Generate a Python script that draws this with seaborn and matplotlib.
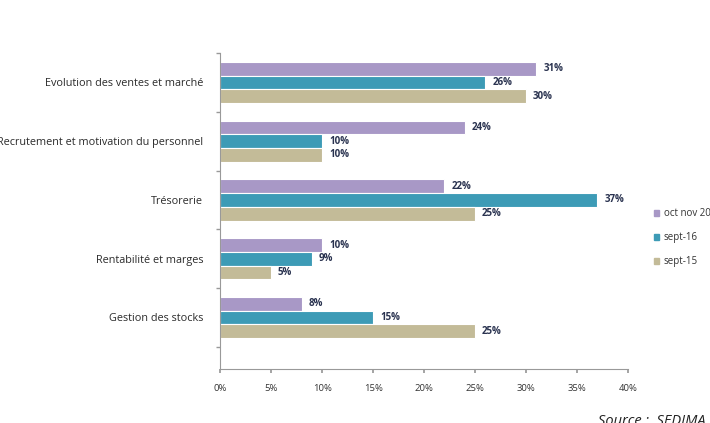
import matplotlib
matplotlib.use("Agg")
import matplotlib.pyplot as plt
import seaborn as sns
import pandas as pd
import numpy as np

categories = ["Evolution des ventes et marché",
              "Recrutement et motivation du personnel",
              "Trésorerie",
              "Rentabilité et marges",
              "Gestion des stocks"]
series_names = ["oct nov 2016", "sept-16", "sept-15"]
oct_nov = [31, 24, 22, 10, 8]
sept16 = [26, 10, 37, 9, 15]
sept15 = [30, 10, 25, 5, 25]
xtick_vals = [0, 5, 10, 15, 20, 25, 30, 35, 40]
xtick_labels = [f"{v}%" for v in xtick_vals]
colors = ["#a898c6", "#3d9bb6", "#c3bb98"]

rows = []
for name, vals in zip(series_names, [oct_nov, sept16, sept15]):
    for c, v in zip(categories, vals):
        rows.append({"cat": c, "period": name, "val": v})
df = pd.DataFrame(rows)

sns.set_theme(style="white")
plt.rcParams["font.family"] = ["Open Sans", "DejaVu Sans"]

fig = plt.figure(figsize=(7.10, 4.23), dpi=100)
ax = fig.add_axes([0.31, 0.1277, 0.5746, 0.747])

sns.barplot(data=df, y="cat", x="val", hue="period", order=categories,
            hue_order=series_names, palette=colors, orient="h", width=0.7,
            edgecolor="white", linewidth=0.8, saturation=1, ax=ax, legend=True)

for cont in ax.containers:
    ax.bar_label(cont, labels=[f"{int(v)}%" for v in cont.datavalues],
                 padding=5, fontsize=7, color="#2a3350", fontweight="bold")

ax.set_xlim(0, 40)
ax.set_ylim(4.876, -0.5)
ax.set_xticks(xtick_vals)
ax.set_xticklabels(xtick_labels, fontsize=6.8, color="#333333")
ax.set_yticks(range(len(categories)))
ax.set_yticklabels(categories, fontsize=7.8, color="#2b2b2b")
ax.set_yticks(np.arange(-0.5, 5.0, 1.0), minor=True)
ax.tick_params(axis="y", which="major", length=0, pad=12)
ax.tick_params(axis="y", which="minor", length=3, color="#999999", left=True)
ax.tick_params(axis="x", which="major", length=3, color="#999999", bottom=True, pad=8)
ax.set_xlabel("")
ax.set_ylabel("")
for s in ["top", "right"]:
    ax.spines[s].set_visible(False)
for s in ["left", "bottom"]:
    ax.spines[s].set_color("#999999")
    ax.spines[s].set_linewidth(0.8)

ax.get_legend().remove()
handles = [plt.Rectangle((0, 0), 1, 1, color=c) for c in colors]
fig.legend(handles, series_names, loc="upper left", bbox_to_anchor=(0.921, 0.508),
           frameon=False, fontsize=7, handlelength=0.55, handleheight=0.55,
           handletextpad=0.45, labelspacing=1.35, borderaxespad=0, borderpad=0,
           labelcolor="#333333")

fig.text(0.842, -0.004, "Source :  SEDIMA", fontsize=10.5, style="italic",
         color="#222222", ha="left", va="baseline")

fig.savefig("out.png", dpi=100)
